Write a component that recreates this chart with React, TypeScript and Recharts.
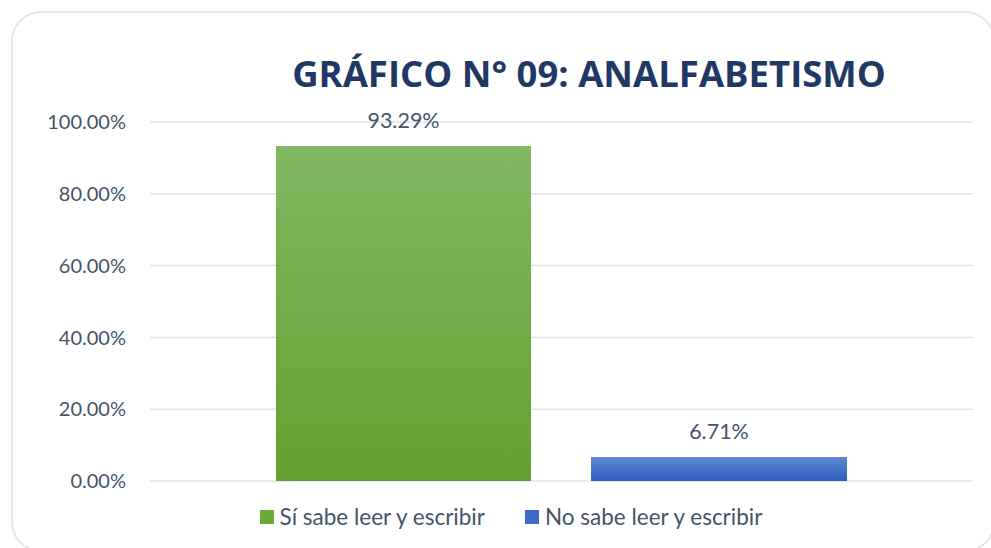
import React from 'react';
import { BarChart, Bar, XAxis, YAxis, CartesianGrid, LabelList } from 'recharts';

const categories = ['Analfabetismo'];
const siSabe = [93.29];
const noSabe = [6.71];
const yTicks = [0, 20, 40, 60, 80, 100];
const seriesNames = ['Sí sabe leer y escribir', 'No sabe leer y escribir'];

const data = categories.map((c, i) => ({ name: c, si: siSabe[i], no: noSabe[i] }));

const FONT = 'Lato, "Open Sans", sans-serif';
const TITLE_FONT = '"Open Sans", "Noto Sans", sans-serif';
const TEXT = '#44546a';

function LegendBox() {
  const items = [
    { label: seriesNames[0], color: '#6aa93a' },
    { label: seriesNames[1], color: '#3b6cc8' },
  ];
  return (
    <div style={{
      position: 'absolute', left: 0, top: 503, width: 1022, display: 'flex', justifyContent: 'center', gap: 40,
      fontFamily: FONT, fontSize: 22.5, color: TEXT,
    }}>
      {items.map(it => (
        <div key={it.label} style={{ display: 'flex', alignItems: 'center' }}>
          <span style={{ width: 14, height: 14, background: it.color, marginRight: 6, display: 'inline-block' }} />
          <span>{it.label}</span>
        </div>
      ))}
    </div>
  );
}

export default function App() {
  return (
    <div style={{ position: 'absolute', left: 0, top: 0, width: 991, height: 548, background: '#fff', overflow: 'hidden' }}>
      <div style={{
        position: 'absolute', left: 11, top: 11, width: 984, height: 541,
        border: '2px solid #e3e7ee', borderRadius: 30, boxSizing: 'border-box',
      }} />
      <div style={{
        position: 'absolute', left: 0, top: 48, width: 1178, textAlign: 'center',
        fontFamily: TITLE_FONT, fontWeight: 700, fontSize: 36.5, color: '#1f3864',
      }}>
        GRÁFICO N° 09: ANALFABETISMO
      </div>
      <BarChart
        width={991}
        height={548}
        data={data}
        margin={{ top: 122, right: 18, bottom: 67, left: 0 }}
        barGap={60}
        style={{ position: 'absolute', left: 0, top: 0 }}
      >
        <defs>
          <linearGradient id="gGreen" x1="0" y1="0" x2="0" y2="1">
            <stop offset="0%" stopColor="#83b862" />
            <stop offset="100%" stopColor="#63a030" />
          </linearGradient>
          <linearGradient id="gBlue" x1="0" y1="0" x2="0" y2="1">
            <stop offset="0%" stopColor="#5d88d2" />
            <stop offset="100%" stopColor="#2e5ebd" />
          </linearGradient>
        </defs>
        <CartesianGrid vertical={false} stroke="#e0e3ea" strokeWidth={1.5} />
        <XAxis dataKey="name" hide />
        <YAxis
          width={150}
          domain={[0, 100]}
          ticks={yTicks}
          tickFormatter={(v: number) => `${v.toFixed(2)}%`}
          axisLine={false}
          tickLine={false}
          tickSize={0}
          tickMargin={24}
          tick={{ fontFamily: FONT, fontSize: 20, fill: TEXT }}
        />
        <Bar dataKey="si" name={seriesNames[0]} fill="url(#gGreen)" barSize={255} isAnimationActive={false}>
          <LabelList dataKey="si" position="top" offset={18} formatter={(v: number) => `${v.toFixed(2)}%`}
            style={{ fontFamily: FONT, fontSize: 21.5, fill: TEXT }} />
        </Bar>
        <Bar dataKey="no" name={seriesNames[1]} fill="url(#gBlue)" barSize={256} isAnimationActive={false}>
          <LabelList dataKey="no" position="top" offset={18} formatter={(v: number) => `${v.toFixed(2)}%`}
            style={{ fontFamily: FONT, fontSize: 21.5, fill: TEXT }} />
        </Bar>
      </BarChart>
      <LegendBox />
    </div>
  );
}
